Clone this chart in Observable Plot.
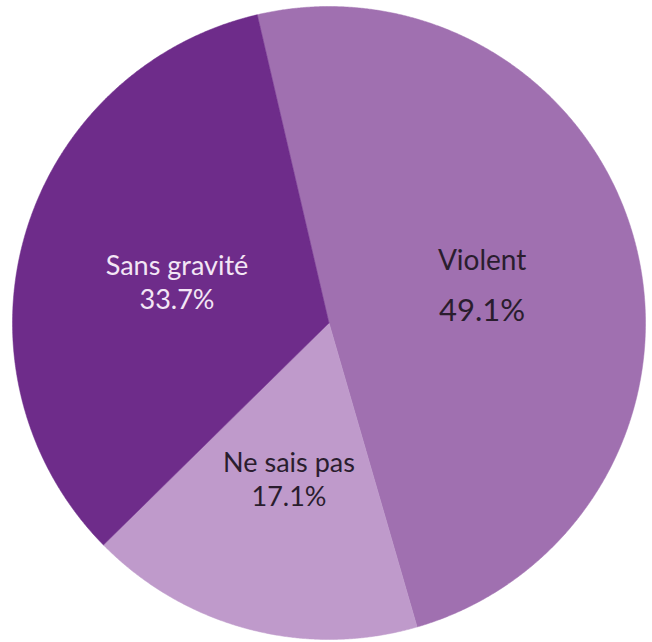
<!DOCTYPE html>
<html><head><meta charset="utf-8">
<script src="https://cdn.jsdelivr.net/npm/d3@7"></script>
<script src="https://cdn.jsdelivr.net/npm/@observablehq/plot@0.6"></script>
<style>body{margin:0;background:#fff}#chart svg{display:block}</style>
</head><body><div id="chart"></div>
<script>
const categories = ["Violent", "Ne sais pas", "Sans gravité"];
const values = [49.1, 17.1, 33.7];
const valueLabels = ["49.1%", "17.1%", "33.7%"];
const sliceColors = ["#A070B0", "#BF9ACB", "#6E2C8A"];
const startAngleDeg = -13.1; // clockwise from 12 o'clock

const a0 = startAngleDeg * Math.PI / 180;
const arcs = d3.pie().sort(null).startAngle(a0).endAngle(a0 + 2 * Math.PI)(values);

// polygon points for each slice (center -> arc -> center)
const slicePts = [];
arcs.forEach((a, i) => {
  const cat = categories[i];
  slicePts.push({cat, x: 0, y: 0});
  const n = Math.max(2, Math.ceil((a.endAngle - a.startAngle) / (Math.PI / 720)));
  for (let k = 0; k <= n; k++) {
    const t = a.startAngle + (a.endAngle - a.startAngle) * k / n;
    slicePts.push({cat, x: Math.sin(t), y: Math.cos(t)});
  }
  slicePts.push({cat, x: 0, y: 0});
});

const labelData = arcs.map((a, i) => {
  const m = (a.startAngle + a.endAngle) / 2;
  return {cat: categories[i], value: valueLabels[i], x: 0.5 * Math.sin(m), y: 0.5 * Math.cos(m)};
});
const big = labelData.filter(d => d.cat === "Violent");
const small = labelData.filter(d => d.cat !== "Violent");
const txtFill = d => d.cat === "Sans gravité" ? "#F3E6F5" : "#2A1D2E";
const font = "Lato, 'Open Sans', sans-serif";

const chart = Plot.plot({
  width: 652,
  height: 642,
  margin: 0,
  style: {background: "#fff", fontFamily: font},
  x: {domain: [-1, 1], range: [12, 645], axis: null},
  y: {domain: [-1, 1], range: [639, 6], axis: null},
  color: {domain: categories, range: sliceColors},
  marks: [
    Plot.line(slicePts, {x: "x", y: "y", z: "cat", fill: "cat", stroke: "cat", strokeWidth: 0.5, curve: "linear"}),
    Plot.text(small, {x: "x", y: "y", text: "cat", fill: txtFill, fontSize: 27, dy: -13, lineAnchor: "middle", fontFamily: font}),
    Plot.text(small, {x: "x", y: "y", text: "value", fill: txtFill, fontSize: 27, dy: 21, lineAnchor: "middle", fontFamily: font}),
    Plot.text(big, {x: "x", y: "y", text: "cat", fill: txtFill, fontSize: 28, dy: -22, lineAnchor: "middle", fontFamily: font}),
    Plot.text(big, {x: "x", y: "y", text: "value", fill: txtFill, fontSize: 31, dy: 28, lineAnchor: "middle", fontFamily: font})
  ]
});
document.getElementById("chart").append(chart);
</script>
</body></html>
